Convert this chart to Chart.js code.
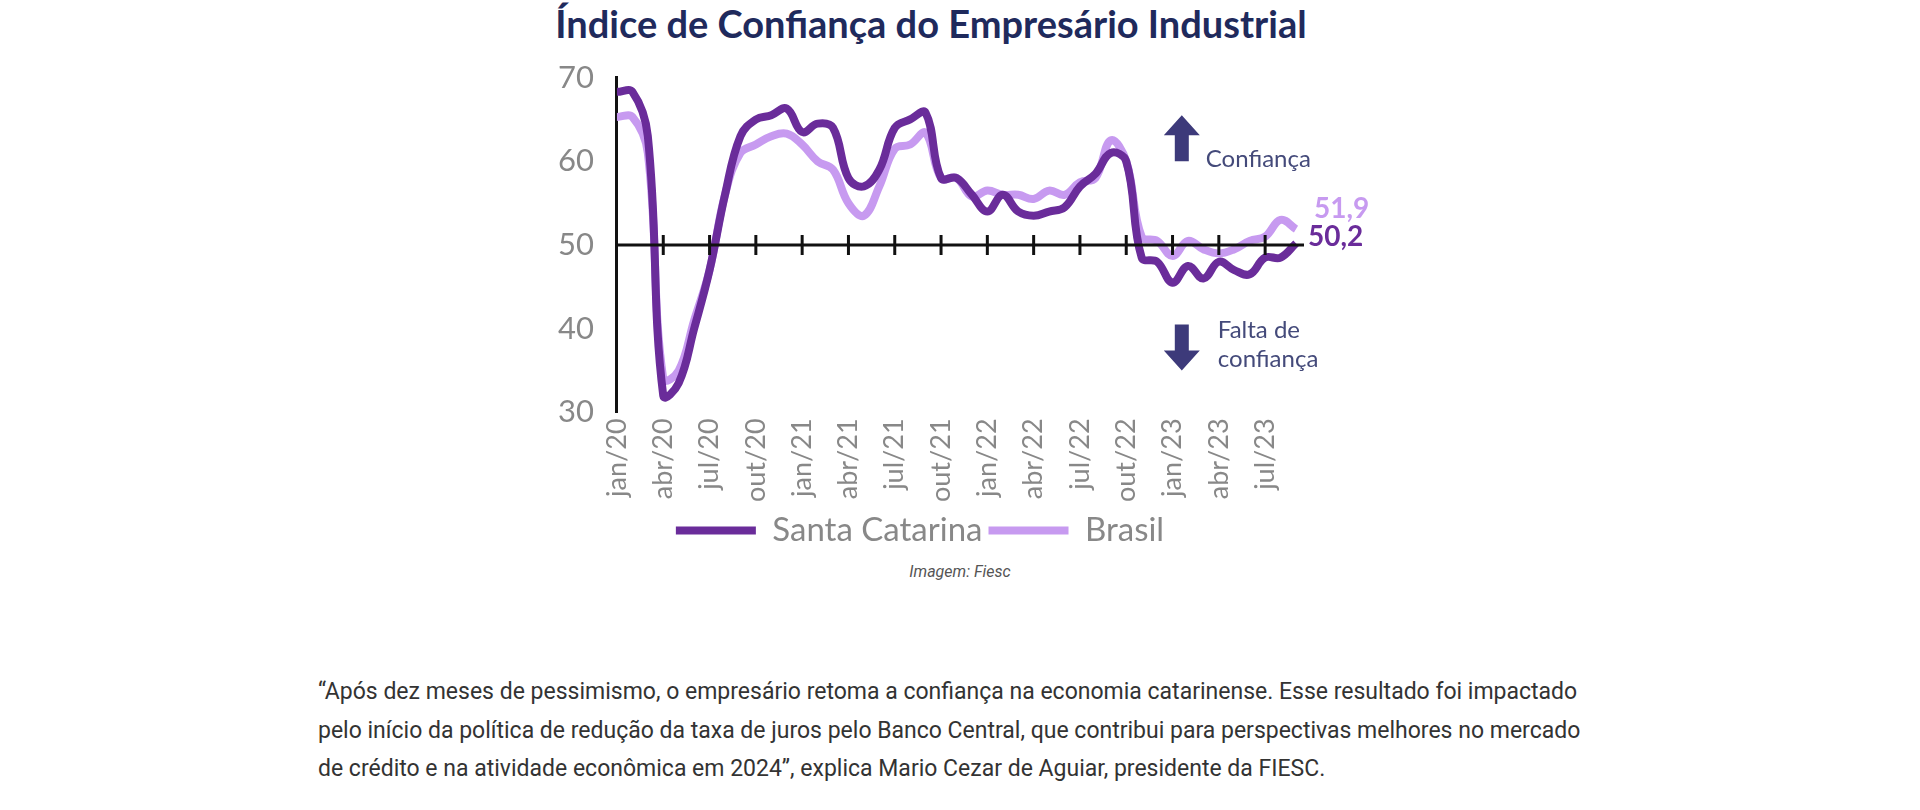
<!DOCTYPE html>
<html>
<head>
<meta charset="utf-8">
<script src="https://cdn.jsdelivr.net/npm/chart.js@4"></script>
<style>
  body { margin: 0; background: #fff; width: 1920px; height: 810px; overflow: hidden; position: relative; font-family: Roboto, sans-serif; }
  #title { position: absolute; top: 0px; left: 0; width: 1862px; text-align: center; font: bold 38px Lato, sans-serif; color: #1f2a5c; }
  #wrap { position: absolute; left: 544px; top: 45px; width: 882px; height: 512px; }
  #caption { position: absolute; top: 562px; left: 0; width: 1920px; text-align: center; font: italic 16px Roboto, sans-serif; color: #555; }
  #text { position: absolute; top: 673px; left: 318px; width: 1280px; font: 23px/1.68 Roboto, sans-serif; color: #333; }
</style>
</head>
<body>
<div id="title">Índice de Confiança do Empresário Industrial</div>
<div id="wrap"><canvas id="c"></canvas></div>
<div id="caption">Imagem: Fiesc</div>
<div id="text">“Após dez meses de pessimismo, o empresário retoma a confiança na economia catarinense. Esse resultado foi impactado pelo início da política de redução da taxa de juros pelo Banco Central, que contribui para perspectivas melhores no mercado de crédito e na atividade econômica em 2024”, explica Mario Cezar de Aguiar, presidente da FIESC.</div>
<script>
const months = ['jan', 'fev', 'mar', 'abr', 'mai', 'jun', 'jul', 'ago', 'set', 'out', 'nov', 'dez'];
const labels = [];
for (let y = 20; y <= 23; y++) {
    for (let m = 0; m < 12; m++) {
        if (y === 23 && m > 8) break;
        labels.push(months[m] + '/' + y);
    }
}

const santaCatarina = [
    68.3, 68.3, 63, 32, 33.5, 40, 47, 56, 63, 65, 65.5, 66.3,
    63.5, 64.5, 64, 58, 57, 59, 64, 65, 65.8, 58, 58, 56,
    54, 56, 54, 53.5, 54, 54.5, 57, 58.5, 61, 60, 48.5, 48,
    45.5, 47.5, 46, 48, 47, 46.5, 48.5, 48.5, 50.2
];
const brasil = [
    65.3, 65.3, 61, 34, 35, 41, 47, 56, 61, 62, 63, 63.3,
    62, 60, 59, 55, 53.5, 57, 61.5, 62, 63.4, 58, 58, 55.8,
    56.5, 56, 56, 55.5, 56.5, 56, 57.5, 58, 62.5, 60, 51, 50.5,
    48.7, 50.5, 49.5, 49, 49.5, 50.5, 51, 53, 51.9
];
const yTicks = [30, 40, 50, 60, 70];

const darkPurple = '#6a2c9a';
const lightPurple = '#c79af0';

// line at 50 with quarter ticks, end labels and arrows
const extras = {
    id: 'extras',
    afterDatasetsDraw(chart) {
        const { ctx, scales: { x, y } } = chart;
        const y50 = y.getPixelForValue(50);
        ctx.save();
        ctx.strokeStyle = '#111';
        ctx.lineWidth = 3;
        ctx.beginPath();
        ctx.moveTo(x.left, y50);
        ctx.lineTo(x.getPixelForValue(labels.length - 1) + 8, y50);
        ctx.stroke();
        for (let i = 3; i < labels.length; i += 3) {
            const px = x.getPixelForValue(i);
            ctx.beginPath();
            ctx.moveTo(px, y50 - 10);
            ctx.lineTo(px, y50 + 10);
            ctx.stroke();
        }
        const last = labels.length - 1;
        const lx = x.getPixelForValue(last);
        ctx.font = 'bold 28px Lato, sans-serif';
        ctx.textBaseline = 'middle';
        ctx.fillStyle = lightPurple;
        ctx.fillText(brasil[last].toFixed(1).replace('.', ','), lx + 18, y.getPixelForValue(54.3));
        ctx.fillStyle = darkPurple;
        ctx.fillText(santaCatarina[last].toFixed(1).replace('.', ','), lx + 12, y.getPixelForValue(51.0));

        // arrows
        const ax = x.getPixelForValue(36.6);
        ctx.fillStyle = '#3d3a7a';
        const up = y.getPixelForValue(65.5);
        ctx.beginPath();
        ctx.moveTo(ax, up); ctx.lineTo(ax + 18, up + 20); ctx.lineTo(ax + 7, up + 20);
        ctx.lineTo(ax + 7, up + 46); ctx.lineTo(ax - 7, up + 46); ctx.lineTo(ax - 7, up + 20);
        ctx.lineTo(ax - 18, up + 20); ctx.closePath(); ctx.fill();
        const dn = y.getPixelForValue(35);
        ctx.beginPath();
        ctx.moveTo(ax, dn); ctx.lineTo(ax + 18, dn - 20); ctx.lineTo(ax + 7, dn - 20);
        ctx.lineTo(ax + 7, dn - 46); ctx.lineTo(ax - 7, dn - 46); ctx.lineTo(ax - 7, dn - 20);
        ctx.lineTo(ax - 18, dn - 20); ctx.closePath(); ctx.fill();
        ctx.font = '24px Lato, sans-serif';
        ctx.fillStyle = '#444a7a';
        ctx.fillText('Confiança', ax + 24, y.getPixelForValue(60.3));
        ctx.fillText('Falta de', ax + 36, y.getPixelForValue(39.8));
        ctx.fillText('confiança', ax + 36, y.getPixelForValue(36.4));
        ctx.restore();
    }
};

new Chart(document.getElementById('c'), {
    type: 'line',
    data: {
        labels: labels,
        datasets: [
            { label: 'Santa Catarina', data: santaCatarina, borderColor: darkPurple, backgroundColor: darkPurple, borderWidth: 8, pointRadius: 0, tension: 0.4 },
            { label: 'Brasil', data: brasil, borderColor: lightPurple, backgroundColor: lightPurple, borderWidth: 8, pointRadius: 0, tension: 0.4 }
        ]
    },
    options: {
        responsive: true,
        maintainAspectRatio: false,
        animation: false,
        layout: { padding: { right: 130, top: 14 } },
        plugins: {
            tooltip: { enabled: false },
            legend: {
                position: 'bottom',
                labels: {
                    usePointStyle: true,
                    pointStyle: 'line',
                    pointStyleWidth: 80,
                    color: '#888',
                    font: { size: 33, family: 'Lato' },
                    padding: 6
                }
            }
        },
        scales: {
            x: {
                grid: { display: false, drawTicks: false },
                border: { display: false },
                ticks: {
                    autoSkip: false,
                    maxRotation: 90,
                    minRotation: 90,
                    color: '#888',
                    font: { size: 27, family: 'Lato' },
                    padding: 6,
                    callback: (v, i) => (i % 3 === 0 ? labels[i] : '')
                }
            },
            y: {
                min: 30,
                max: 70,
                afterBuildTicks: axis => { axis.ticks = yTicks.map(v => ({ value: v })); },
                grid: { display: false, drawTicks: true, tickLength: 9, tickColor: '#111', tickWidth: 3 },
                border: { color: '#111', width: 3 },
                ticks: { color: '#888', font: { size: 31, family: 'Lato' }, padding: 14 }
            }
        }
    },
    plugins: [extras]
});
</script>
</body>
</html>
